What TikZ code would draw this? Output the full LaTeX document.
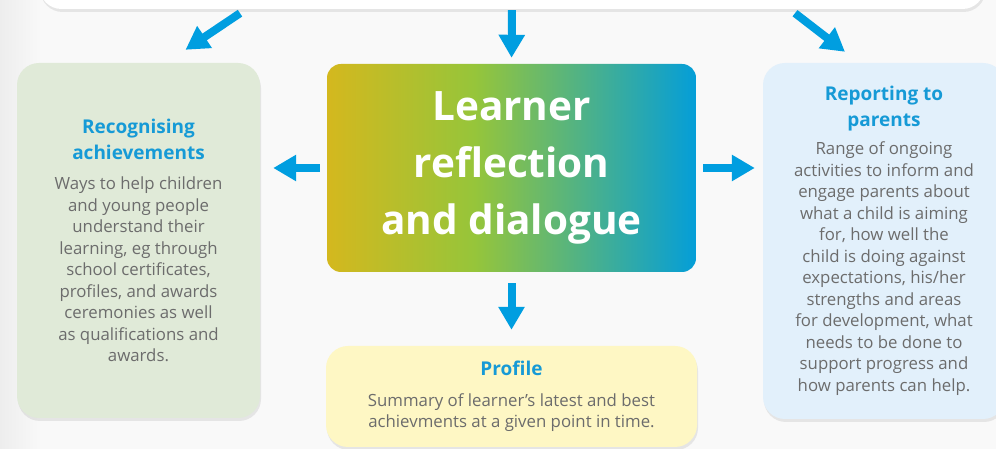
\documentclass[tikz,border=0pt]{standalone}
\usepackage{fontspec}
\setmainfont{Open Sans}
\usetikzlibrary{arrows.meta,positioning,calc,shadows}
\definecolor{skyblue}{RGB}{0,158,224}
\definecolor{headblue}{RGB}{22,154,214}
\definecolor{bodygray}{RGB}{108,108,108}
\definecolor{palegreen}{RGB}{224,234,216}
\definecolor{paleblue}{RGB}{226,240,251}
\definecolor{paleyellow}{RGB}{254,247,196}
\definecolor{mustard}{RGB}{212,184,30}
\definecolor{leafgreen}{RGB}{150,197,58}
\definecolor{oceanblue}{RGB}{4,158,216}
\pgfdeclarehorizontalshading{reflectshade}{100bp}{color(0bp)=(mustard); color(25bp)=(mustard);
  color(45bp)=(leafgreen); color(75bp)=(oceanblue); color(100bp)=(oceanblue)}
\newcommand\cardhead{\fontsize{19}{21.5}\selectfont\bfseries\color{headblue}}
\tikzset{
  card/.style={rounded corners=22pt,align=center,text=bodygray,
    font=\fontsize{16.8}{21.5}\selectfont,
    drop shadow={shadow xshift=1pt,shadow yshift=-3pt,opacity=0.16}},
  bigarrow/.style={line width=8pt,skyblue,-{Triangle[width=25pt,length=23pt]}}
}

\begin{document}
\begin{tikzpicture}[x=1pt,y=1pt]
  \useasboundingbox (0,0) rectangle (996,449);
  \fill[gray!5] (0,0) rectangle (996,449);
  \shade[left color=gray!14,right color=gray!5] (0,0) rectangle (40,449);

  % boxes
  \node[card,fill=white,minimum width=945,minimum height=100] (plan) at (512,490) {};
  \node[card,fill=palegreen,minimum width=243,minimum height=355] (lbox) at (138.5,208.5)
    {\cardhead Recognising\\[4pt]\cardhead achievements\\[9pt]
     Ways to help children\\ and young people\\ understand their\\ learning, eg through\\
     school certificates,\\ profiles, and awards\\ ceremonies as well\\ as qualifications and\\ awards.};
  \node[card,fill=paleblue,minimum width=242,minimum height=356] (rbox) at (884,208)
    {\cardhead Reporting to\\[4pt]\cardhead parents\\[7pt]
     Range of ongoing\\ activities to inform and\\ engage parents about\\ what a child is aiming\\
     for, how well the\\ child is doing against\\ expectations, his/her\\ strengths and areas\\
     for development, what\\ needs to be done to\\ support progress and\\ how parents can help.};
  \node[card,fill=paleyellow,minimum width=371,minimum height=101] (prof) at (511.5,52.5)
    {\cardhead Profile\\[9pt]
     Summary of learner's latest and best\\ achievments at a given point in time.};
  \node[rounded corners=14pt,shading=reflectshade,minimum width=369,minimum height=208,
    align=center,text=white,font=\fontsize{40.5}{57}\selectfont\bfseries] (ctr) at (511.5,281)
    {Learner\\ reflection\\ and dialogue};

  % arrows
  \coordinate (plstart) at ($(plan.south)+(-272,-4)$);
  \coordinate (plend) at ($(lbox.north)+(47,13)$);
  \coordinate (prstart) at ($(plan.south)+(283,-4)$);
  \coordinate (prend) at ($(rbox.north)+(-39,11)$);
  \draw[bigarrow] (plstart) -- (plend);
  \draw[bigarrow] (prstart) -- (prend);
  \draw[bigarrow,shorten <=1pt,shorten >=6pt] (plan.south) -- (ctr.north);
  \draw[bigarrow,shorten <=7pt,shorten >=13pt] (ctr.west) -- (ctr.west -| lbox.east);
  \draw[bigarrow,shorten <=7pt,shorten >=8pt] (ctr.east) -- (ctr.east -| rbox.west);
  \draw[bigarrow,shorten <=11pt,shorten >=16pt] (ctr.south) -- (prof.north);
\end{tikzpicture}
\end{document}
